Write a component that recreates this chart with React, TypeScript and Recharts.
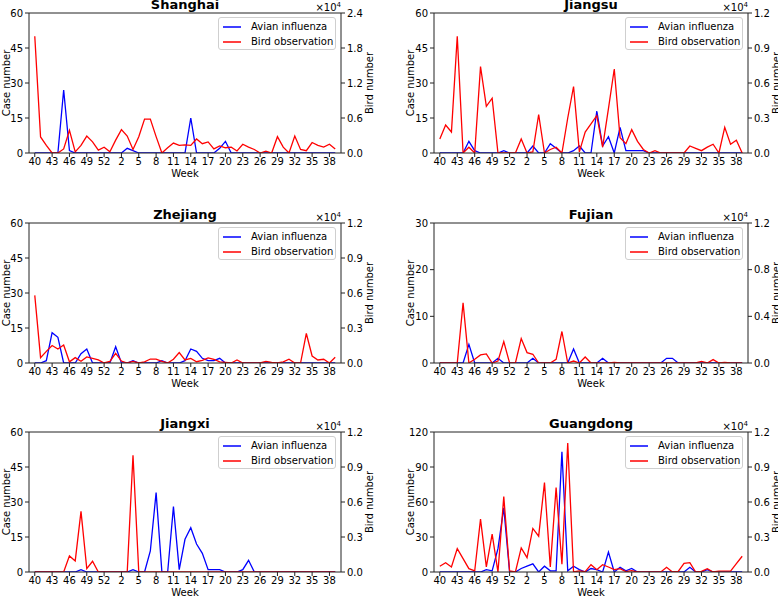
import { LineChart, Line, XAxis, YAxis, Legend, ReferenceLine } from 'recharts'

const FONT = '"DejaVu Sans", sans-serif'

// weeks 40..53 of one year, then 1..39 of the next
const WEEKS = ['40', '41', '42', '43', '44', '45', '46', '47', '48', '49', '50', '51', '52', '53',
  '1', '2', '3', '4', '5', '6', '7', '8', '9', '10', '11', '12', '13', '14', '15', '16', '17', '18', '19', '20',
  '21', '22', '23', '24', '25', '26', '27', '28', '29', '30', '31', '32', '33', '34', '35', '36', '37', '38', '39']
const WEEK_TICKS = [0, 3, 6, 9, 12, 15, 18, 21, 24, 27, 30, 33, 36, 39, 42, 45, 48, 51]

const SHANGHAI_CASES = [0, 0, 0, 0, 0, 27, 1, 0, 0, 0, 0, 0, 0, 0, 0, 0, 2, 1, 0, 0, 0, 0, 0, 0, 0, 0, 0, 15, 0, 0,
  0, 0, 2, 5, 0, 0, 0, 0, 0, 0, 0, 0, 0, 0, 0, 0, 0, 0, 0, 0, 0, 0, 0]
const SHANGHAI_BIRDS = [20000, 2750, 1300, 0, 0, 700, 3900, 200, 1300, 2900, 1900, 500, 1000, 200, 2200, 4000, 2900, 600,
  2800, 5800, 5800, 2800, 0, 900, 1700, 1300, 1400, 1300, 2400, 1600, 1900, 700, 1200, 900, 1000, 350, 1500, 1000, 600,
  0, 300, 0, 2800, 1000, 0, 2900, 600, 400, 1800, 1300, 1000, 1500, 700]

const JIANGSU_CASES = [0, 0, 0, 0, 0, 5, 1, 0, 0, 0, 0, 1, 0, 0, 0, 0, 3, 0, 0, 4, 2, 0, 0, 1, 3, 0, 0, 18, 3, 7,
  0, 11, 1, 1, 1, 1, 0, 0, 0, 0, 0, 0, 0, 0, 0, 0, 0, 0, 0, 0, 0, 0, 0]
const JIANGSU_BIRDS = [1200, 2400, 1800, 10000, 0, 500, 0, 7400, 4000, 4700, 0, 0, 0, 0, 1200, 0, 100, 3300, 0, 300,
  500, 0, 3000, 5700, 100, 1800, 2500, 3200, 500, 3800, 7200, 1300, 800, 2000, 1000, 300, 0, 200, 0, 0,
  0, 0, 0, 600, 400, 200, 500, 750, 0, 2200, 750, 1100, 0]

const ZHEJIANG_CASES = [0, 0, 1, 13, 11, 0, 0, 0, 4, 6, 0, 0, 0, 0, 7, 0, 0, 1, 0, 0, 0, 0, 1, 0, 0, 0, 1, 6, 5, 2,
  1, 1, 2, 0, 0, 0, 0, 0, 0, 0, 0, 0, 0, 0, 0, 0, 0, 0, 0, 0, 0, 0, 0]
const ZHEJIANG_BIRDS = [5800, 460, 1000, 1500, 1200, 1550, 100, 460, 150, 520, 400, 260, 0, 140, 830, 170, 0, 140, 0, 100,
  340, 340, 140, 0, 320, 890, 260, 400, 110, 230, 430, 320, 90, 50, 0, 260, 0, 0, 0, 0,
  140, 50, 0, 100, 320, 0, 0, 2530, 600, 260, 320, 0, 490]

const FUJIAN_CASES = [0, 0, 0, 0, 0, 4, 0, 0, 0, 0, 1, 0, 0, 0, 0, 0, 1, 0, 0, 0, 0, 0, 0, 3, 0, 0, 0, 0, 1, 0,
  0, 0, 0, 0, 0, 0, 0, 0, 0, 1, 1, 0, 0, 0, 0, 0, 0, 0, 0, 0, 0, 0, 0]
const FUJIAN_BIRDS = [0, 0, 0, 0, 5150, 0, 320, 690, 780, 0, 170, 1840, 0, 0, 2100, 890, 750, 0, 0, 0,
  320, 2700, 0, 170, 0, 520, 0, 0, 0, 0, 50, 0, 0, 0, 0, 0, 0, 0, 0, 0,
  0, 0, 0, 0, 0, 140, 0, 290, 0, 60, 0, 0, 0]

const JIANGXI_CASES = [0, 0, 0, 0, 0, 0, 0, 0, 1, 0, 0, 0, 0, 0, 0, 0, 0, 1, 0, 0, 9, 34, 0, 0, 28, 1, 14, 19, 12, 8,
  1, 1, 1, 0, 0, 0, 1, 5, 0, 0, 0, 0, 0, 0, 0, 0, 0, 0, 0, 0, 0, 0, 0]
const JIANGXI_BIRDS = [0, 0, 0, 0, 0, 0, 1380, 950, 5200, 290, 920, 0, 0, 0, 0, 0, 0, 10000, 0, 0,
  0, 0, 0, 0, 0, 0, 0, 0, 0, 0, 0, 0, 0, 0, 0, 0, 0, 0, 0, 0,
  0, 0, 0, 0, 0, 0, 0, 0, 0, 0, 0, 0, 0]

const GUANGDONG_CASES = [0, 0, 0, 0, 0, 0, 0, 0, 2, 1, 20, 55, 0, 0, 3, 5, 7, 0, 5, 1, 1, 103, 1, 5, 2, 0, 3, 2, 0, 17,
  0, 4, 1, 3, 0, 0, 0, 0, 0, 0, 0, 0, 0, 4, 0, 0, 2, 0, 0, 0, 0, 0, 0]
const GUANGDONG_BIRDS = [490, 800, 430, 2000, 1150, 290, 90, 4530, 430, 3240, 0, 6460, 90, 0, 2070, 1230, 3730, 3070, 7660, 430,
  7230, 660, 11050, 0, 90, 30, 630, 200, 630, 430, 200, 290, 30, 110, 0, 0, 0, 0, 0, 400,
  0, 50, 750, 800, 0, 50, 290, 0, 80, 80, 80, 720, 1350]

const TICKS_60 = [0, 15, 30, 45, 60]
const BIRD_12 = [0, 3000, 6000, 9000, 12000]

const PANELS = [
  { title: 'Shanghai', cases: SHANGHAI_CASES, birds: SHANGHAI_BIRDS, caseTicks: TICKS_60, birdTicks: [0, 6000, 12000, 18000, 24000] },
  { title: 'Jiangsu', cases: JIANGSU_CASES, birds: JIANGSU_BIRDS, caseTicks: TICKS_60, birdTicks: BIRD_12 },
  { title: 'Zhejiang', cases: ZHEJIANG_CASES, birds: ZHEJIANG_BIRDS, caseTicks: TICKS_60, birdTicks: BIRD_12 },
  { title: 'Fujian', cases: FUJIAN_CASES, birds: FUJIAN_BIRDS, caseTicks: [0, 10, 20, 30], birdTicks: [0, 4000, 8000, 12000] },
  { title: 'Jiangxi', cases: JIANGXI_CASES, birds: JIANGXI_BIRDS, caseTicks: TICKS_60, birdTicks: BIRD_12 },
  { title: 'Guangdong', cases: GUANGDONG_CASES, birds: GUANGDONG_BIRDS, caseTicks: [0, 30, 60, 90, 120], birdTicks: BIRD_12 },
]

const CASE_COLOR = '#0000ff'
const BIRD_COLOR = '#ff0000'

// layout
const CHART_W = 389
const CHART_H = 185
const TOP = 13
const AXIS_H = 32
const COLS = [
  { x: 0, left: 29, right: 48, caseLabelX: 9.5, birdLabelX: 373 },
  { x: 389, left: 45, right: 30, caseLabelX: 25, birdLabelX: 391 },
]
const ROW_TOPS = [0, 210, 419]
const AXIS_COLOR = '#222'

function LegendBox({ payload }: any) {
  return (
    <div style={{ width: 116, height: 31, border: '1px solid #cfcfcf', borderRadius: 3, background: 'rgba(255,255,255,0.85)', position: 'relative', fontFamily: FONT, fontSize: 10, color: '#000' }}>
      {(payload || []).map((item: any, k: number) => {
        const c = item.dataKey === 'cases' ? CASE_COLOR : BIRD_COLOR
        return (
          <div key={item.value} style={{ position: 'absolute', left: 0, top: 1 + k * 15, height: 15, display: 'flex', alignItems: 'center' }}>
            <svg width={18} height={4} style={{ marginLeft: 4, marginRight: 10 }}>
              <line x1={0} y1={2} x2={18} y2={2} stroke={c} strokeWidth={1.5} />
            </svg>
            <span style={{ whiteSpace: 'nowrap' }}>{item.value}</span>
          </div>
        )
      })}
    </div>
  )
}

function Panel({ p, col, top }: any) {
  const data = WEEKS.map((w, i) => ({ i, week: w, cases: p.cases[i], birds: p.birds[i] }))
  const plotW = CHART_W - col.left - col.right
  const plotH = CHART_H - TOP - AXIS_H
  const midY = TOP + plotH / 2
  const tick = { fontSize: 10, fill: '#000', fontFamily: FONT }
  const caseMax = p.caseTicks[p.caseTicks.length - 1]
  const birdMax = p.birdTicks[p.birdTicks.length - 1]
  const plotRight = col.x + col.left + plotW

  return (
    <>
      <div style={{ position: 'absolute', left: col.x, top }}>
        <LineChart width={CHART_W} height={CHART_H} data={data} margin={{ top: TOP, right: 0, bottom: 0, left: 0 }}>
          <XAxis type="number" dataKey="i" domain={[-1, 53]} ticks={WEEK_TICKS} interval={0} allowDataOverflow
            tickFormatter={(v: number) => WEEKS[v]} height={AXIS_H} tickSize={4} tickMargin={1} tick={tick}
            axisLine={{ stroke: AXIS_COLOR }} tickLine={{ stroke: AXIS_COLOR }}
            label={() => (
              <text x={col.left + plotW / 2} y={TOP + plotH + 24} textAnchor="middle" fontSize={10} fontFamily={FONT} fill="#000">Week</text>
            )} />
          <YAxis yAxisId="L" domain={[0, caseMax]} ticks={p.caseTicks} interval={0} allowDataOverflow width={col.left}
            tickSize={4} tickMargin={2} tick={tick} axisLine={{ stroke: AXIS_COLOR }} tickLine={{ stroke: AXIS_COLOR }}
            label={() => (
              <text x={col.caseLabelX} y={midY} transform={`rotate(-90, ${col.caseLabelX}, ${midY})`} textAnchor="middle"
                fontSize={10} fontFamily={FONT} fill="#000">Case number</text>
            )} />
          <YAxis yAxisId="R" orientation="right" domain={[0, birdMax]} ticks={p.birdTicks} interval={0} allowDataOverflow
            width={col.right} tickSize={4} tickMargin={2} tick={tick}
            tickFormatter={(v: number) => (v / 10000).toFixed(1)}
            axisLine={{ stroke: AXIS_COLOR }} tickLine={{ stroke: AXIS_COLOR }}
            label={() => (
              <text x={col.birdLabelX} y={midY} transform={`rotate(-90, ${col.birdLabelX}, ${midY})`} textAnchor="middle"
                fontSize={10} fontFamily={FONT} fill="#000">Bird number</text>
            )} />
          {/* top spine of the box */}
          <ReferenceLine yAxisId="L" y={caseMax} stroke={AXIS_COLOR} ifOverflow="extendDomain" />
          <Legend layout="horizontal" verticalAlign="middle" align="center" content={<LegendBox />}
            wrapperStyle={{ left: col.left + plotW - 5 - 118, top: TOP + 4, width: 118, height: 33 }} />
          <Line yAxisId="L" type="linear" dataKey="cases" name="Avian influenza" stroke={CASE_COLOR} strokeWidth={1.3}
            dot={false} activeDot={false} isAnimationActive={false} />
          <Line yAxisId="R" type="linear" dataKey="birds" name="Bird observation" stroke={BIRD_COLOR} strokeWidth={1.3}
            dot={false} activeDot={false} isAnimationActive={false} />
        </LineChart>
      </div>
      <svg width={778} height={596} style={{ position: 'absolute', left: 0, top: 0, pointerEvents: 'none', overflow: 'visible' }}>
        <text x={col.x + col.left + plotW / 2} y={top + TOP - 4} textAnchor="middle" fontSize={13} fontWeight="bold"
          fontFamily={FONT} fill="#000">{p.title}</text>
        <text x={plotRight} y={top + TOP - 2.5} textAnchor="end" fontSize={10} fontFamily={FONT} fill="#000">
          ×10<tspan fontSize={7} dy={-4}>4</tspan>
        </text>
      </svg>
    </>
  )
}

export default function App() {
  return (
    <div style={{ position: 'absolute', left: 0, top: 0, width: 778, height: 596, background: '#fff', overflow: 'hidden', fontFamily: FONT }}>
      {PANELS.map((p, k) => (
        <Panel key={p.title} p={p} col={COLS[k % 2]} top={ROW_TOPS[Math.floor(k / 2)]} />
      ))}
    </div>
  )
}
